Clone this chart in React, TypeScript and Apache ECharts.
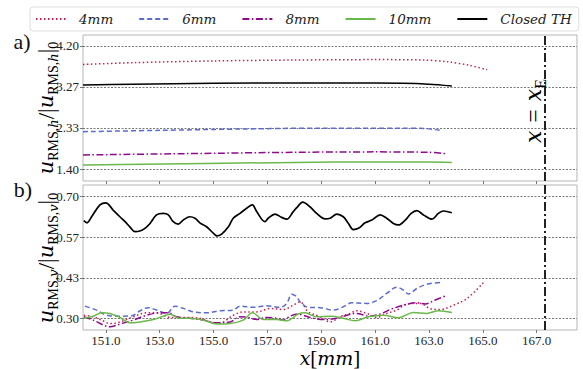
import React, { useEffect, useRef } from "react";
import * as echarts from "echarts";

// ---------- DATA ----------
const xTicks = [151, 153, 155, 157, 159, 161, 163, 165, 167];
const yTicksTop = [1.4, 2.33333, 3.26667, 4.2];
const yTicksBottom = [0.3, 0.43333, 0.56667, 0.7];
const xE = 167.31;
const seriesNames = ["4mm", "6mm", "8mm", "10mm", "Closed TH"];

// top panel (a)
const xTop4 = [150.15, 152, 155, 158, 161, 162.8, 163.7, 164.5, 165.15];
const yTop4 = [3.78, 3.82, 3.86, 3.88, 3.89, 3.88, 3.84, 3.76, 3.66];
const xTop6 = [150.15, 153, 156, 159, 162, 162.9, 163.4];
const yTop6 = [2.25, 2.28, 2.31, 2.33, 2.33, 2.32, 2.28];
const xTop8 = [150.15, 154, 158, 161, 163, 163.6];
const yTop8 = [1.72, 1.75, 1.78, 1.79, 1.78, 1.75];
const xTop10 = [150.15, 154, 158, 161, 163, 163.85];
const yTop10 = [1.49, 1.52, 1.55, 1.56, 1.56, 1.55];
const xTopTH = [150.15, 152, 155, 158, 160, 162, 163, 163.85];
const yTopTH = [3.31, 3.33, 3.35, 3.36, 3.36, 3.35, 3.33, 3.29];

// bottom panel (b)
const xBot4 = [150.18, 150.53, 150.84, 151.15, 151.52, 152.01, 152.51, 152.88, 153.38, 153.87, 154.49, 154.87, 155.24, 155.73, 156.1, 156.6, 157.1, 157.59, 157.96, 158.21, 158.52, 158.96, 159.33, 159.7, 160.07, 160.32, 160.69, 161.06, 161.43, 161.81, 162.18, 162.67, 163.04, 163.42, 163.91, 164.41, 165.02];
const yBot4 = [0.31, 0.305, 0.294, 0.283, 0.288, 0.305, 0.318, 0.318, 0.303, 0.303, 0.3, 0.288, 0.285, 0.31, 0.321, 0.321, 0.332, 0.329, 0.343, 0.354, 0.321, 0.305, 0.288, 0.305, 0.316, 0.325, 0.316, 0.303, 0.316, 0.327, 0.347, 0.349, 0.332, 0.329, 0.343, 0.365, 0.417];
const xBot6 = [150.22, 150.65, 151.03, 151.4, 151.96, 152.26, 152.57, 152.88, 153.26, 153.57, 153.87, 154.25, 154.74, 155.24, 155.73, 155.98, 156.48, 156.97, 157.47, 157.72, 157.9, 158.09, 158.21, 158.52, 158.96, 159.45, 159.82, 160.13, 160.69, 161.06, 161.43, 161.81, 162.05, 162.24, 162.55, 162.92, 163.42];
const yBot6 = [0.34, 0.327, 0.31, 0.307, 0.308, 0.324, 0.335, 0.327, 0.316, 0.34, 0.333, 0.321, 0.318, 0.325, 0.327, 0.34, 0.336, 0.341, 0.336, 0.349, 0.379, 0.371, 0.354, 0.336, 0.335, 0.327, 0.338, 0.351, 0.349, 0.358, 0.382, 0.402, 0.393, 0.38, 0.398, 0.412, 0.418];
const xBot8 = [150.18, 150.53, 150.9, 151.15, 151.52, 152.01, 152.51, 153.01, 153.32, 153.63, 154.12, 154.62, 155.12, 155.61, 155.98, 156.29, 156.6, 156.97, 157.35, 157.59, 157.84, 158.15, 158.33, 158.71, 159.14, 159.58, 159.95, 160.32, 160.75, 161.19, 161.56, 162.05, 162.55, 162.86, 163.23, 163.6];
const yBot8 = [0.305, 0.294, 0.278, 0.272, 0.281, 0.294, 0.31, 0.318, 0.318, 0.305, 0.3, 0.294, 0.285, 0.288, 0.305, 0.303, 0.296, 0.303, 0.3, 0.294, 0.307, 0.314, 0.31, 0.3, 0.296, 0.3, 0.31, 0.316, 0.307, 0.314, 0.329, 0.343, 0.351, 0.347, 0.36, 0.373];
const xBot10 = [150.18, 150.53, 150.84, 151.15, 151.52, 151.89, 152.26, 152.76, 153.13, 153.38, 153.75, 154.12, 154.62, 155.12, 155.61, 156.1, 156.45, 156.85, 157.35, 157.72, 158.15, 158.4, 158.83, 159.39, 159.82, 160.26, 160.75, 161.31, 161.87, 162.42, 162.92, 163.35, 163.85];
const yBot10 = [0.3, 0.307, 0.318, 0.316, 0.303, 0.285, 0.288, 0.296, 0.307, 0.313, 0.3, 0.3, 0.294, 0.281, 0.283, 0.294, 0.318, 0.296, 0.296, 0.292, 0.314, 0.318, 0.305, 0.307, 0.3, 0.292, 0.305, 0.31, 0.302, 0.319, 0.316, 0.325, 0.319];
const xBotTH = [150.18, 150.3, 150.47, 150.78, 151.0, 151.27, 151.52, 151.71, 151.89, 152.08, 152.26, 152.45, 152.64, 152.88, 153.13, 153.32, 153.5, 153.69, 153.87, 154.12, 154.31, 154.49, 154.74, 154.99, 155.12, 155.3, 155.55, 155.73, 155.98, 156.23, 156.44, 156.6, 156.91, 157.03, 157.28, 157.53, 157.72, 157.96, 158.1, 158.31, 158.58, 158.83, 159.14, 159.33, 159.58, 159.82, 160.01, 160.19, 160.38, 160.63, 160.88, 161.19, 161.43, 161.68, 161.87, 162.12, 162.34, 162.55, 162.8, 163.11, 163.35, 163.54, 163.85];
const yBotTH = [0.621, 0.614, 0.634, 0.673, 0.68, 0.656, 0.634, 0.618, 0.601, 0.585, 0.587, 0.596, 0.612, 0.64, 0.645, 0.64, 0.618, 0.61, 0.623, 0.634, 0.629, 0.614, 0.601, 0.58, 0.571, 0.577, 0.601, 0.629, 0.645, 0.662, 0.673, 0.651, 0.618, 0.629, 0.643, 0.632, 0.626, 0.651, 0.665, 0.682, 0.667, 0.645, 0.627, 0.629, 0.643, 0.634, 0.612, 0.592, 0.596, 0.614, 0.623, 0.64, 0.629, 0.612, 0.607, 0.623, 0.645, 0.654, 0.64, 0.626, 0.645, 0.653, 0.647];

// ---------- STYLE ----------
const colors = ["#c81e4e", "#5b6bd1", "#8e0b8e", "#6bb84a", "#000000"];
const dashes: any[] = [[1.5, 2.5], [5, 3], [7, 2.5, 1.5, 2.5], "solid", "solid"];
const SERIF = "Liberation Serif";
const ITAL = "DejaVu Serif";

const zip = (xs: number[], ys: number[]) => xs.map((x, i) => [x, ys[i]]);

export default function App() {
  const ref = useRef<HTMLDivElement>(null);
  useEffect(() => {
    if (!ref.current) return;
    const chart = echarts.init(ref.current, null, { renderer: "svg" });

    const topData = [zip(xTop4, yTop4), zip(xTop6, yTop6), zip(xTop8, yTop8), zip(xTop10, yTop10), zip(xTopTH, yTopTH)];
    const botData = [zip(xBot4, yBot4), zip(xBot6, yBot6), zip(xBot8, yBot8), zip(xBot10, yBot10), zip(xBotTH, yBotTH)];

    const markLine = {
      silent: true,
      symbol: "none",
      label: { show: false },
      lineStyle: { color: "#222", width: 2, type: [9, 3, 2, 3] },
      data: [{ xAxis: xE }],
    };

    const series: any[] = [];
    [topData, botData].forEach((group, gi) => {
      group.forEach((d, si) => {
        series.push({
          type: "line",
          name: seriesNames[si],
          xAxisIndex: gi,
          yAxisIndex: gi,
          data: d,
          symbol: "none",
          smooth: gi === 1 ? 0.35 : 0.3,
          lineStyle: { color: colors[si], width: si === 4 && gi === 1 ? 1.7 : 1.5, type: dashes[si] },
          itemStyle: { color: colors[si] },
          markLine: si === 4 ? markLine : undefined,
          z: si === 4 ? 3 : 2,
        });
      });
    });

    const xAxisBase = (gi: number) => ({
      type: "value",
      gridIndex: gi,
      min: 150.15,
      max: 168.5,
      axisLine: { show: false },
      splitLine: { show: false },
      axisTick: { show: true, length: 3, customValues: xTicks, lineStyle: { color: "#777" } },
      axisLabel: {
        show: gi === 1,
        customValues: xTicks,
        formatter: (v: number) => v.toFixed(1),
        fontFamily: SERIF,
        fontSize: 13,
        color: "#222",
        margin: 4,
      },
    });

    const yAxisBase = (gi: number, min: number, max: number, ticks: number[]) => ({
      type: "value",
      gridIndex: gi,
      min,
      max,
      axisLine: { show: false },
      axisTick: { show: true, length: 3, customValues: ticks, lineStyle: { color: "#777" } },
      splitLine: { show: true, lineStyle: { color: "#555", width: 0.8, type: [2, 1.5] } },
      axisLabel: {
        customValues: ticks,
        formatter: (v: number) => v.toFixed(2),
        fontFamily: SERIF,
        fontSize: 13,
        color: "#222",
        margin: 4,
      },
    });

    const subRich = {
      u: { fontFamily: ITAL, fontStyle: "italic", fontSize: 21, lineHeight: 28, verticalAlign: "middle", color: "#111" },
      n: { fontFamily: SERIF, fontSize: 23, lineHeight: 28, verticalAlign: "middle", color: "#111" },
      s: { fontFamily: SERIF, fontSize: 14, lineHeight: 14, verticalAlign: "bottom", color: "#111" },
      si: { fontFamily: ITAL, fontStyle: "italic", fontSize: 13, lineHeight: 14, verticalAlign: "bottom", color: "#111" },
    };

    const yLabel = (cx: number, cy: number, c: string) => ({
      type: "text",
      x: cx,
      y: cy,
      rotation: Math.PI / 2,
      style: {
        text: `{u|u}{s|RMS,}{si|${c}}{n|/|}{u|u}{s|RMS,}{si|${c}}{n||}{s|0}`,
        rich: subRich,
        align: "center",
        verticalAlign: "middle",
      },
    });

    chart.setOption({
      animation: false,
      backgroundColor: "#ffffff",
      legend: {
        data: seriesNames,
        left: 30,
        top: 7,
        width: 545,
        padding: [5, 7, 5, 5],
        itemWidth: 30,
        itemHeight: 14,
        itemGap: 25,
        borderColor: "#dddddd",
        borderWidth: 1,
        borderRadius: 3,
        itemStyle: { opacity: 0 },
        textStyle: { fontFamily: ITAL, fontStyle: "italic", fontSize: 13.5, color: "#222", padding: [0, 0, 0, 8] },
      },
      grid: [
        { left: 83, top: 35, width: 494, height: 146, show: true, borderColor: "#b5b5b5", borderWidth: 1, backgroundColor: "transparent" },
        { left: 83, top: 185, width: 494, height: 145, show: true, borderColor: "#b5b5b5", borderWidth: 1, backgroundColor: "transparent" },
      ],
      xAxis: [xAxisBase(0), xAxisBase(1)],
      yAxis: [yAxisBase(0, 1.127, 4.45, yTicksTop), yAxisBase(1, 0.2615, 0.7385, yTicksBottom)],
      series,
      graphic: [
        { type: "text", x: 22, y: 41, style: { text: "a)", fontFamily: SERIF, fontSize: 22, fill: "#111", align: "center", verticalAlign: "middle" } },
        { type: "text", x: 23, y: 189, style: { text: "b)", fontFamily: SERIF, fontSize: 22, fill: "#111", align: "center", verticalAlign: "middle" } },
        yLabel(46, 108, "h"),
        yLabel(46, 258, "v"),
        {
          type: "text",
          x: 533,
          y: 111,
          rotation: Math.PI / 2,
          style: {
            text: "{x|x}{eq|=}{x|x}{e|E}",
            align: "center",
            verticalAlign: "middle",
            rich: {
              x: { fontFamily: ITAL, fontStyle: "italic", fontSize: 22, lineHeight: 30, verticalAlign: "middle", color: "#111" },
              eq: { fontFamily: SERIF, fontSize: 24, lineHeight: 30, verticalAlign: "middle", color: "#111", padding: [0, 8, 0, 8] },
              e: { fontFamily: SERIF, fontSize: 16, lineHeight: 16, verticalAlign: "bottom", color: "#111" },
            },
          },
        },
        {
          type: "text",
          x: 330,
          y: 358,
          style: {
            text: "{i|x}{n|[}{i|mm}{n|]}",
            align: "center",
            verticalAlign: "middle",
            rich: {
              i: { fontFamily: ITAL, fontStyle: "italic", fontSize: 19, lineHeight: 20, color: "#111" },
              n: { fontFamily: SERIF, fontSize: 21, lineHeight: 20, color: "#111" },
            },
          },
        },
      ],
    });

    return () => chart.dispose();
  }, []);

  return <div ref={ref} style={{ position: "fixed", left: 0, top: 0, width: 583, height: 369 }} />;
}
